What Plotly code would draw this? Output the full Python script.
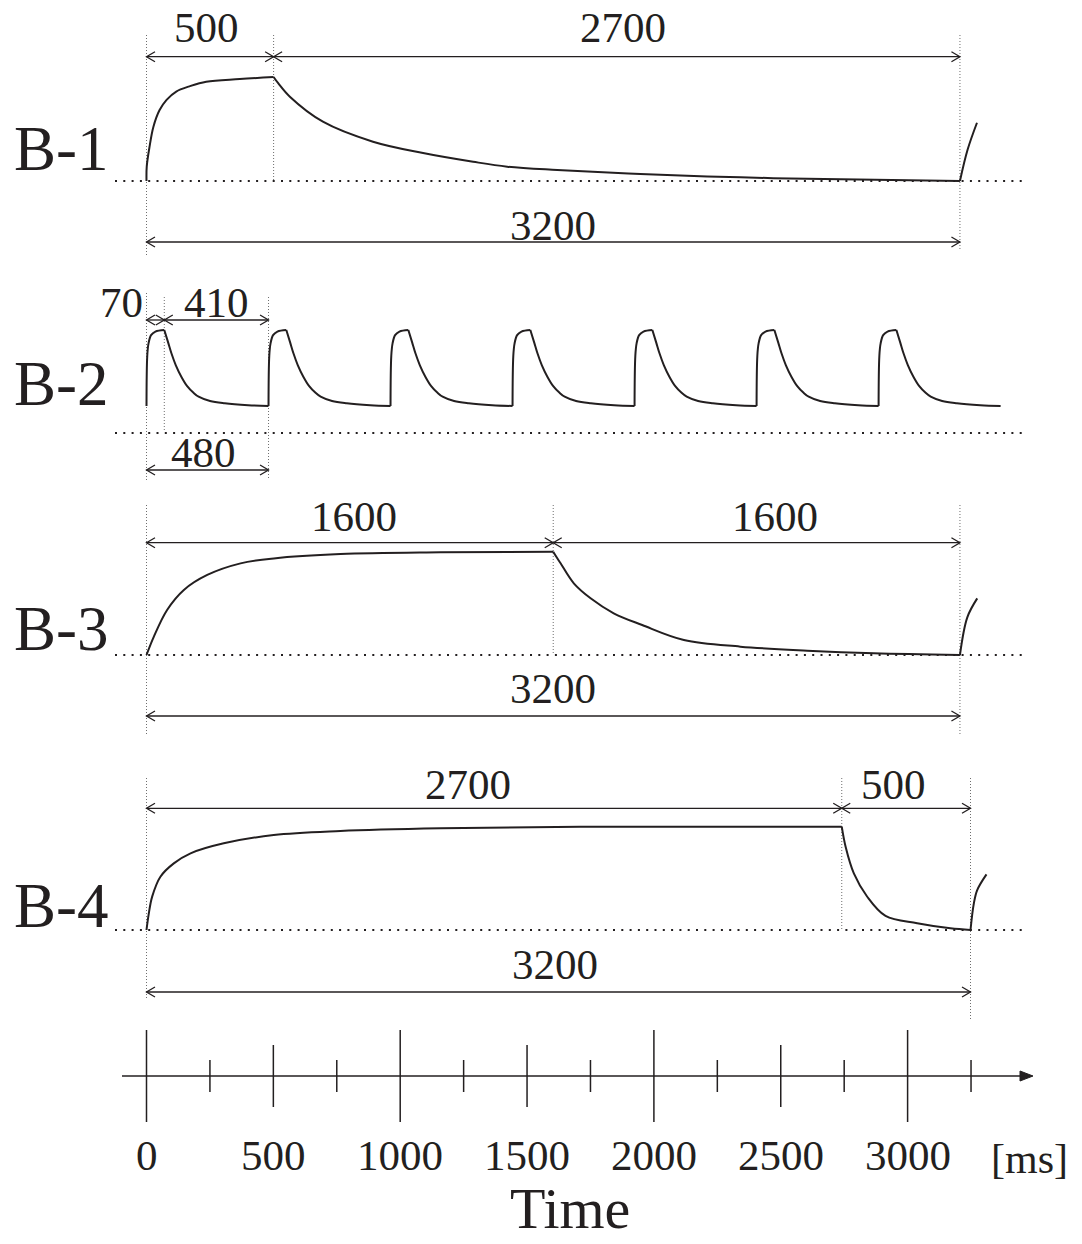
import plotly.graph_objects as go

W, H = 1082, 1244
INK = "#231f20"
GUIDE = "#6e6e6e"
FONT = "Liberation Serif, Times New Roman, serif"

# ---------------- data (time in ms, level normalised 0 = baseline, 1 = peak) ----------------
row_names = ["B-1", "B-2", "B-3", "B-4"]

# B-1 : 500 ms charge, 2700 ms discharge
b1_rise_t = [0, 1, 12, 27, 51, 79, 117, 169, 235, 367, 500]
b1_rise_v = [0, 0.14, 0.33, 0.52, 0.68, 0.78, 0.86, 0.91, 0.955, 0.98, 1.0]
b1_fall_t = [500, 518, 564, 694, 891, 1088, 1285, 1419, 1616, 1943, 2337, 2732, 3200]
b1_fall_v = [1.0, 0.94, 0.81, 0.57, 0.378, 0.269, 0.185, 0.138, 0.106, 0.067, 0.035, 0.016, 0.0]
b1_next_t = [3200, 3230, 3267]
b1_next_v = [0.0, 0.30, 0.56]

# B-2 : 70 ms charge, 410 ms discharge, repeated every 480 ms
b2_cycles = 7
b2_period = 480
b2_rise_t = [0, 3, 8, 18, 35, 70]
b2_rise_v = [0.262, 0.75, 0.87, 0.95, 0.985, 1.0]
b2_fall_t = [70, 85, 98, 115, 137, 160, 185, 205, 250, 308, 400, 480]
b2_fall_v = [1.0, 0.88, 0.774, 0.66, 0.547, 0.455, 0.39, 0.352, 0.31, 0.288, 0.27, 0.262]

# B-3 : 1600 ms charge, 1600 ms discharge
b3_rise_t = [0, 29, 81, 147, 239, 370, 501, 763, 1157, 1600]
b3_rise_v = [0, 0.178, 0.436, 0.63, 0.775, 0.887, 0.935, 0.977, 0.994, 1.0]
b3_fall_t = [1600, 1616, 1629, 1681, 1747, 1838, 1950, 2114, 2336, 2599, 2861, 3200]
b3_fall_v = [1.0, 0.936, 0.888, 0.694, 0.549, 0.404, 0.29, 0.145, 0.081, 0.042, 0.016, 0.0]
b3_next_t = [3200, 3229, 3268]
b3_next_v = [0.0, 0.365, 0.548]

# B-4 : 2700 ms charge, 500 ms discharge
b4_rise_t = [0, 9, 22, 54, 106, 171, 300, 494, 753, 1142, 1685, 2700]
b4_rise_v = [0, 0.161, 0.323, 0.516, 0.645, 0.742, 0.839, 0.919, 0.958, 0.984, 1.0, 1.0]
b4_fall_t = [2700, 2715, 2747, 2799, 2870, 2993, 3122, 3200]
b4_fall_v = [1.0, 0.806, 0.548, 0.322, 0.136, 0.065, 0.016, 0.0]
b4_next_t = [3200, 3213, 3226, 3262]
b4_next_v = [0.0, 0.258, 0.387, 0.539]

# dimension marks (ms) for each row
b1_marks = [0, 500, 3200]
b2_marks = [0, 70, 480]
b3_marks = [0, 1600, 3200]
b4_marks = [0, 2700, 3200]

# time axis
axis_major = [0, 1000, 2000, 3000]
axis_mid = [500, 1500, 2500]
axis_minor = [250, 750, 1250, 1750, 2250, 2750, 3250]
axis_label_pos = [0, 500, 1000, 1500, 2000, 2500, 3000]
axis_labels = ["0", "500", "1000", "1500", "2000", "2500", "3000"]
axis_unit = "[ms]"
axis_title = "Time"

# ---------------- build waveform segments ----------------
def segs(*pairs):
    xs, ys = [], []
    for t, v in pairs:
        xs += list(t) + [None]
        ys += list(v) + [None]
    return xs, ys

b2_pairs = []
for n in range(b2_cycles):
    off = n * b2_period
    b2_pairs.append(([off + t for t in b2_rise_t], b2_rise_v))
    b2_pairs.append(([off + t for t in b2_fall_t], b2_fall_v))

waves = [
    segs((b1_rise_t, b1_rise_v), (b1_fall_t, b1_fall_v), (b1_next_t, b1_next_v)),
    segs(*b2_pairs),
    segs((b3_rise_t, b3_rise_v), (b3_fall_t, b3_fall_v), (b3_next_t, b3_next_v)),
    segs((b4_rise_t, b4_rise_v), (b4_fall_t, b4_fall_v), (b4_next_t, b4_next_v)),
]
marks = [b1_marks, b2_marks, b3_marks, b4_marks]

# ---------------- layout geometry (pixels) ----------------
X0 = 146.5
rows = [
    dict(base=181, peak=77, band=(0, 265), s=0.2542, top_arrow=56.7, top_label=27,
         bot_arrow=242, bot_label=225, guides=[(35, 255), (35, 181), (35, 250)],
         name_y=149, top_dx=[-4, 6], bot_dx=0),
    dict(base=433, peak=330, band=(265, 490), s=0.2542, top_arrow=320, top_label=302,
         bot_arrow=470, bot_label=452, guides=[(293, 480), (297, 432), (297, 480)],
         name_y=384, top_dx=[-34, 0], bot_dx=-4),
    dict(base=655, peak=551.7, band=(490, 745), s=0.2542, top_arrow=542.7, top_label=516,
         bot_arrow=716, bot_label=688, guides=[(505, 735), (505, 655), (505, 735)],
         name_y=629, top_dx=[4, 18], bot_dx=0),
    dict(base=930, peak=826.7, band=(745, 1025), s=0.2575, top_arrow=808.3, top_label=784,
         bot_arrow=992, bot_label=964, guides=[(778, 1000), (778, 930), (778, 1020)],
         name_y=906, top_dx=[-26, -13], bot_dx=-4),
]
AX = dict(band=(1025, H), s=0.2537, line_y=1076, major=46, mid=31, minor=16,
          label_y=1155, title_y=1208.5)

fig = go.Figure()
annotations = []
layout_axes = {}

def vconv(r, px):
    return (r["base"] - px) / (r["base"] - r["peak"])

for i, (r, (wx, wy), mk, name) in enumerate(zip(rows, waves, marks, row_names), start=1):
    xa = "x" if i == 1 else f"x{i}"
    ya = "y" if i == 1 else f"y{i}"
    s = r["s"]
    hgt = r["base"] - r["peak"]
    top, bot = r["band"]
    layout_axes["xaxis" if i == 1 else f"xaxis{i}"] = dict(
        domain=[0, 1], range=[-X0 / s, (W - X0) / s], visible=False, fixedrange=True,
        anchor=ya)
    layout_axes["yaxis" if i == 1 else f"yaxis{i}"] = dict(
        domain=[(H - bot) / H, (H - top) / H], range=[vconv(r, bot), vconv(r, top)],
        visible=False, fixedrange=True, anchor=xa)

    # dotted baseline
    fig.add_trace(go.Scatter(
        x=[(115 - X0) / s, (1022 - X0) / s], y=[0, 0], mode="lines", xaxis=xa, yaxis=ya,
        line=dict(color=INK, width=2, dash="2px,6.3px"), hoverinfo="skip"))
    # vertical guides
    gx, gy = [], []
    for t, (g0, g1) in zip(mk, r["guides"]):
        gx += [t, t, None]
        gy += [vconv(r, g0), vconv(r, g1), None]
    fig.add_trace(go.Scatter(x=gx, y=gy, mode="lines", xaxis=xa, yaxis=ya,
                             line=dict(color=GUIDE, width=1, dash="1px,2px"), hoverinfo="skip"))
    # waveform
    fig.add_trace(go.Scatter(x=wx, y=wy, mode="lines", xaxis=xa, yaxis=ya,
                             line=dict(color=INK, width=2, shape="spline", smoothing=1.0),
                             hoverinfo="skip"))
    # dimension arrows
    dx = 8.5 / s
    dy = 5.0 / hgt
    spans_top = list(zip(mk[:-1], mk[1:]))
    spans_bot = [(mk[0], mk[-1])]
    ax_, ay_ = [], []
    for (t0, t1), ypx in [(sp, r["top_arrow"]) for sp in spans_top] + [(sp, r["bot_arrow"]) for sp in spans_bot]:
        y = vconv(r, ypx)
        ax_ += [t0, t1, None, t0 + dx, t0, t0 + dx, None, t1 - dx, t1, t1 - dx, None]
        ay_ += [y, y, None, y + dy, y, y - dy, None, y + dy, y, y - dy, None]
    fig.add_trace(go.Scatter(x=ax_, y=ay_, mode="lines", xaxis=xa, yaxis=ya,
                             line=dict(color=INK, width=1.3), hoverinfo="skip"))
    # dimension labels
    for (t0, t1), ddx in zip(spans_top, r["top_dx"]):
        annotations.append(dict(x=(t0 + t1) / 2, y=vconv(r, r["top_label"]), xref=xa, yref=ya,
                                text=str(t1 - t0), showarrow=False, xshift=ddx,
                                font=dict(family=FONT, size=43, color=INK),
                                xanchor="center", yanchor="middle"))
    t0, t1 = spans_bot[0]
    annotations.append(dict(x=(t0 + t1) / 2, y=vconv(r, r["bot_label"]), xref=xa, yref=ya,
                            text=str(t1 - t0), showarrow=False, xshift=r["bot_dx"],
                            font=dict(family=FONT, size=43, color=INK),
                            xanchor="center", yanchor="middle"))
    # row name
    annotations.append(dict(x=12 / W, y=(H - r["name_y"]) / H, xref="paper", yref="paper",
                            text=name, showarrow=False, xanchor="left", yanchor="middle",
                            font=dict(family=FONT, size=63, color=INK)))

# ---------------- time axis ----------------
s = AX["s"]
top, bot = AX["band"]
layout_axes["xaxis5"] = dict(domain=[0, 1], range=[-X0 / s, (W - X0) / s], visible=False,
                             fixedrange=True, anchor="y5")
layout_axes["yaxis5"] = dict(domain=[0, (H - top) / H], range=[bot, top], visible=False,
                             fixedrange=True, anchor="x5")
ly = AX["line_y"]
tip = (1033 - X0) / s
fig.add_trace(go.Scatter(x=[(122 - X0) / s, tip - 6 / s], y=[ly, ly], mode="lines",
                         xaxis="x5", yaxis="y5", line=dict(color=INK, width=1.5),
                         hoverinfo="skip"))
fig.add_trace(go.Scatter(x=[tip, tip - 13 / s, tip - 13 / s, tip], y=[ly, ly - 5, ly + 5, ly],
                         mode="lines", fill="toself", fillcolor=INK, xaxis="x5", yaxis="y5",
                         line=dict(color=INK, width=1), hoverinfo="skip"))
tx, ty = [], []
for ticks, half in [(axis_major, AX["major"]), (axis_mid, AX["mid"]), (axis_minor, AX["minor"])]:
    for t in ticks:
        tx += [t, t, None]
        ty += [ly - half, ly + half, None]
fig.add_trace(go.Scatter(x=tx, y=ty, mode="lines", xaxis="x5", yaxis="y5",
                         line=dict(color=INK, width=1.5), hoverinfo="skip"))
for t, lab in zip(axis_label_pos, axis_labels):
    annotations.append(dict(x=t, y=AX["label_y"], xref="x5", yref="y5", text=lab,
                            showarrow=False, xanchor="center", yanchor="middle",
                            font=dict(family=FONT, size=43, color=INK)))
annotations.append(dict(x=1029 / W, y=(H - 1159) / H, xref="paper", yref="paper",
                        text=axis_unit, showarrow=False, xanchor="center", yanchor="middle",
                        font=dict(family=FONT, size=42, color=INK)))
annotations.append(dict(x=570 / W, y=(H - AX["title_y"]) / H, xref="paper", yref="paper",
                        text=axis_title, showarrow=False, xanchor="center", yanchor="middle",
                        font=dict(family=FONT, size=58, color=INK)))

fig.update_layout(width=W, height=H, margin=dict(l=0, r=0, t=0, b=0),
                  paper_bgcolor="white", plot_bgcolor="white", showlegend=False,
                  annotations=annotations, **layout_axes)

fig.write_html("out.html")
